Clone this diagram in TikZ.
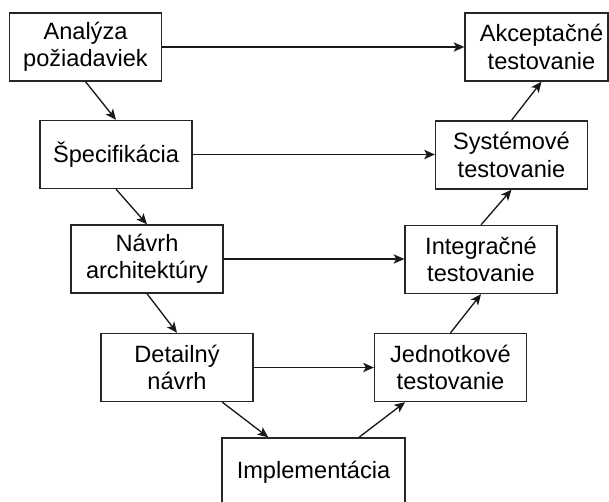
\documentclass[tikz,border=0pt]{standalone}
\usepackage{fontspec}
\setmainfont{Liberation Sans}
\usetikzlibrary{arrows.meta}
\begin{document}
\begin{tikzpicture}[x=0.75pt,y=-0.75pt,
  stage/.style={draw=black!85, line width=1pt, fill=white, align=center,
    minimum width=114pt, minimum height=51pt, inner sep=0pt,
    font=\fontsize{17.7}{20.5}\selectfont},
  flow/.style={draw=black!90, line width=1pt,
    -{Stealth[length=8pt, width=7pt, inset=2pt]}},
  lbl/.style={align=center, inner sep=0pt, font=\fontsize{17.7}{20.5}\selectfont}]
\useasboundingbox (0,0) rectangle (609,502);
\begin{scope}
\clip (0,0) rectangle (609,502);
% left branch: specification and design
\node[stage] (ana) at (85.5,47) {Analýza\\požiadaviek};
\node[stage] (spe) at (116,154.5) {Špecifikácia};
\node[stage] (arch) at (147,259) {Návrh\\architektúry};
\node[stage] (det) at (177,367.5) {Detailný\\návrh};
% bottom
\node[stage, minimum width=137.25pt] (imp) at (313.5,472) {Implementácia};
% right branch: testing levels
\node[stage] (jed) at (450.5,367.5) {Jednotkové\\testovanie};
\node[stage] (int) at (481,259.5) {Integračné\\testovanie};
\node[stage] (sys) at (511.5,155) {Systémové\\testovanie};
\node[stage, minimum width=107.25pt] (akc) at (536.5,47) {};
\node[lbl] (akcl) at (541.5,47) {Akceptačné\\testovanie};
% descending chain
\draw[flow] (ana.south) -- (spe.north);
\draw[flow] (spe.south) -- (arch.north);
\draw[flow] (arch.south) -- (det.north);
\draw[flow] (det) -- (imp);
% ascending chain
\draw[flow] (imp) -- (jed);
\draw[flow] (jed.north) -- (int.south);
\draw[flow] (int.north) -- (sys.south);
\draw[flow] (sys.north) -- (akc.south -| akcl);
% horizontal correspondences
\draw[flow] (ana) -- (akc);
\draw[flow] (spe.east) -- (spe.east -| sys.west);
\draw[flow] (arch.east) -- (arch.east -| int.west);
\draw[flow] (det) -- (jed);
\end{scope}
\end{tikzpicture}
\end{document}
